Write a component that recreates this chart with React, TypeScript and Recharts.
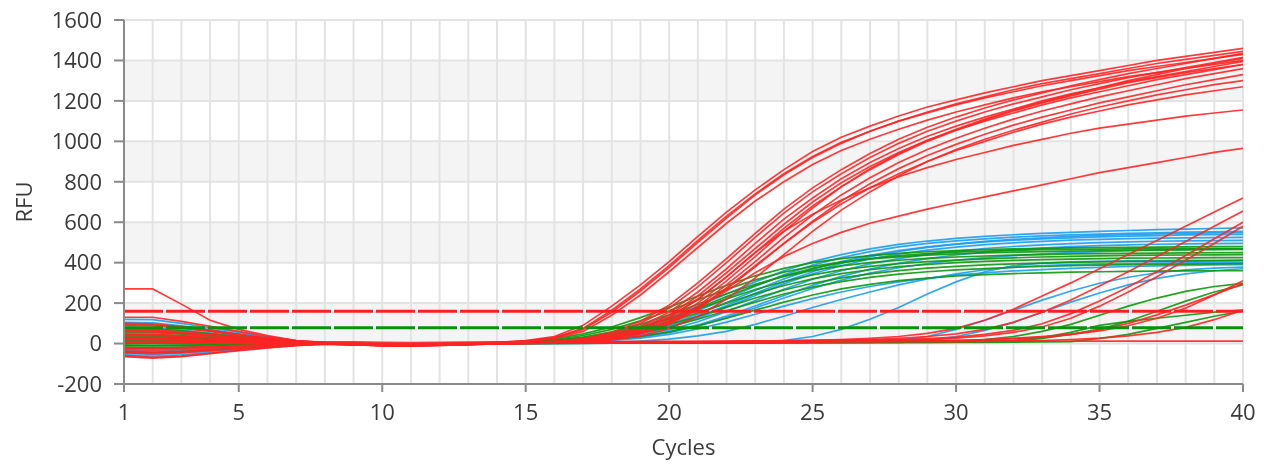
import React from 'react';
import { LineChart, Line, XAxis, YAxis, CartesianGrid, ReferenceLine, Label } from 'recharts';

const cycles = [1,2,3,4,5,6,7,8,9,10,11,12,13,14,15,16,17,18,19,20,21,22,23,24,25,26,27,28,29,30,31,32,33,34,35,36,37,38,39,40];
const xTicks = [1, 5, 10, 15, 20, 25, 30, 35, 40];
const yTicks = [-200, 0, 200, 400, 600, 800, 1000, 1200, 1400, 1600];
const redThreshold = 160;
const greenThreshold = 78;

const redEarly = [
  [130,130,110,85,60,35,15,5,2,-2,-3,-1,2,6,15,35,90,185,290,405,530,650,760,860,950,1020,1075,1125,1170,1205,1240,1270,1300,1325,1350,1375,1400,1420,1440,1460],
  [60,58,50,40,28,16,7,2,0,-4,-5,-3,0,4,12,30,75,165,270,385,510,630,740,840,925,995,1050,1100,1140,1180,1215,1245,1275,1300,1325,1350,1370,1390,1410,1430],
  [20,20,18,14,10,6,3,0,-2,-6,-7,-5,-2,3,10,28,70,155,260,375,500,620,735,835,920,990,1050,1100,1145,1185,1220,1255,1285,1310,1335,1360,1385,1405,1425,1445],
  [-20,-22,-20,-15,-10,-6,-3,-1,-4,-8,-9,-7,-3,2,9,25,60,140,240,355,475,595,705,800,885,955,1010,1060,1105,1145,1180,1215,1245,1270,1295,1320,1340,1360,1380,1400],
];

const redMain = [
  [90,88,75,60,42,25,10,3,0,-3,-4,-2,0,3,6,12,25,55,110,190,300,420,545,665,770,860,940,1010,1070,1120,1165,1205,1240,1275,1305,1335,1360,1385,1410,1435],
  [40,40,35,28,20,12,5,1,-2,-5,-6,-4,-1,2,5,10,22,50,100,175,280,400,525,645,750,840,920,990,1050,1100,1145,1185,1220,1255,1285,1315,1340,1365,1390,1415],
  [5,4,3,2,1,0,0,0,-3,-7,-8,-6,-3,0,4,8,18,42,85,155,255,370,495,615,720,815,895,965,1025,1075,1120,1160,1200,1235,1265,1295,1320,1345,1370,1395],
  [-45,-50,-45,-35,-25,-15,-7,-2,-5,-10,-11,-8,-4,-1,3,7,15,35,75,140,235,350,470,590,700,795,875,945,1005,1055,1100,1140,1180,1215,1245,1275,1305,1330,1355,1380],
  [70,68,58,45,32,18,8,2,-1,-4,-5,-3,0,2,4,6,12,28,60,115,200,310,430,555,670,775,865,940,1005,1060,1110,1155,1195,1230,1265,1300,1330,1360,1385,1410],
  [25,24,21,17,12,7,3,1,-2,-5,-6,-4,-1,2,4,6,12,26,55,105,185,290,405,525,635,735,820,895,960,1015,1065,1110,1150,1185,1220,1250,1280,1310,1335,1360],
  [-65,-72,-65,-50,-35,-22,-10,-3,-6,-11,-12,-9,-5,-2,2,5,10,22,48,95,170,270,380,495,605,705,790,865,930,985,1035,1080,1120,1155,1190,1220,1250,1280,1305,1330],
  [45,44,38,30,21,12,5,1,-2,-5,-6,-4,-2,1,3,4,8,18,38,75,135,220,325,440,555,660,750,830,900,960,1010,1055,1095,1135,1170,1200,1230,1255,1280,1300],
  [100,98,84,66,46,27,11,3,0,-3,-4,-3,0,3,5,6,10,24,50,100,175,275,385,495,600,690,770,840,900,955,1000,1045,1085,1120,1150,1180,1205,1230,1250,1270],
  [-30,-33,-30,-23,-15,-9,-4,-1,-4,-8,-9,-7,-3,0,3,7,14,32,68,128,218,330,450,570,680,775,860,935,1000,1055,1105,1150,1190,1225,1258,1290,1315,1340,1360,1380],
];

const redLow = [
  [10,10,8,6,4,2,1,0,-3,-6,-7,-5,-2,1,4,8,16,35,70,130,220,330,450,555,640,710,770,825,870,910,945,980,1010,1040,1065,1085,1105,1125,1140,1155],
  [-40,-45,-40,-30,-22,-13,-6,-2,-5,-9,-10,-8,-4,-1,2,6,14,30,60,110,180,260,350,430,495,550,595,630,665,695,725,755,785,815,845,870,895,920,945,965],
];

const redLate = [
  [270,270,195,115,70,40,15,5,2,0,-1,0,1,2,3,3,4,4,5,5,5,8,10,13,16,20,26,35,50,75,115,170,235,300,370,440,510,580,650,720],
  [45,45,38,30,22,13,6,2,0,-3,-4,-2,0,2,4,5,6,7,8,9,10,11,12,14,16,18,20,26,35,48,70,105,155,215,285,355,430,505,580,655],
  [-60,-68,-62,-48,-33,-20,-9,-3,-6,-10,-11,-9,-5,-2,0,2,3,4,5,6,7,8,9,10,12,14,16,18,24,32,45,65,98,148,210,280,355,435,518,600],
  [22,21,18,14,10,6,3,1,-1,-4,-5,-3,-1,1,3,4,5,6,7,8,9,10,11,12,13,15,17,19,20,27,38,55,82,125,185,255,330,412,495,580],
  [65,63,54,42,30,17,7,2,0,-3,-4,-2,0,2,3,4,5,6,7,8,9,10,10,11,12,13,14,15,15,15,20,26,34,45,62,88,125,175,240,310],
  [-25,-27,-24,-18,-12,-7,-3,-1,-4,-8,-9,-7,-4,-1,1,3,4,5,6,7,8,9,10,10,11,12,13,14,15,16,18,24,32,45,68,100,142,190,242,295],
  [95,93,80,62,44,26,11,3,0,-3,-4,-2,0,1,2,3,3,4,4,5,5,6,6,7,7,8,8,9,9,10,11,13,15,20,27,38,55,80,118,166],
  [30,30,25,20,15,12,10,9,8,6,5,6,7,8,9,10,10,10,11,11,11,11,12,12,12,12,12,12,12,12,12,12,12,12,12,12,12,12,12,12],
];

const blueMain = [
  [120,118,100,78,55,32,14,4,0,-3,-4,-2,0,3,8,15,28,50,85,130,185,245,305,360,405,440,468,490,507,520,530,538,545,550,555,559,563,566,569,572],
  [-55,-62,-56,-43,-30,-18,-8,-2,-5,-9,-10,-8,-4,0,6,12,22,40,70,110,162,222,283,340,388,425,455,478,495,508,518,526,532,537,541,545,548,551,553,555],
  [15,15,13,10,7,4,2,0,-2,-5,-6,-4,-1,2,5,10,18,33,58,95,145,203,263,320,368,406,436,460,478,492,503,511,518,523,528,531,534,537,539,540],
  [40,39,34,27,19,11,5,1,-1,-4,-5,-3,0,2,4,8,15,27,48,80,125,180,238,295,345,385,418,443,462,477,489,498,505,511,515,519,521,523,524,525],
  [-22,-24,-21,-16,-11,-6,-3,-1,-4,-8,-9,-7,-3,0,3,6,12,22,40,68,108,158,213,268,318,360,394,420,441,457,470,480,488,494,499,503,506,508,509,510],
  [62,60,52,41,29,17,7,2,0,-3,-4,-2,0,2,3,6,11,20,35,58,92,136,186,238,288,332,368,397,420,438,452,463,472,479,484,488,491,493,494,495],
  [2,2,1,1,0,0,0,0,-3,-6,-7,-5,-2,1,2,5,10,18,32,54,86,128,176,225,272,314,348,375,396,412,425,435,443,450,455,459,463,466,468,470],
  [-48,-54,-48,-37,-26,-16,-7,-2,-5,-9,-10,-8,-4,-1,4,9,16,30,52,86,132,188,248,305,355,396,430,456,476,492,505,515,523,530,535,539,542,545,547,548],
  [105,103,88,69,48,28,12,3,0,-3,-4,-2,0,1,2,4,8,15,27,45,72,106,145,185,222,255,282,305,323,338,350,359,366,372,377,381,384,387,389,390],
  [28,27,24,19,13,8,3,1,-2,-5,-6,-4,-2,0,2,3,4,6,12,22,38,60,95,135,178,218,255,290,320,345,365,378,386,391,394,396,398,399,400,400],
];

const blueLate = [
  [80,78,67,52,37,22,9,2,0,-3,-4,-2,0,1,2,2,3,3,3,4,4,4,6,15,35,70,120,178,245,305,355,385,398,404,407,409,410,411,412,413],
  [-35,-39,-35,-27,-19,-11,-5,-1,-4,-8,-9,-7,-3,-1,0,1,1,2,2,3,3,3,4,4,4,5,5,15,35,70,115,165,215,260,298,328,350,364,373,378],
  [8,8,7,5,4,2,1,0,-3,-6,-7,-5,-2,0,1,1,2,2,2,3,3,3,3,4,4,4,4,5,15,35,65,105,155,205,250,290,322,345,360,370],
];

const greenMain = [
  [55,54,47,37,26,15,6,2,0,-3,-4,-2,1,5,12,25,48,82,128,180,235,288,335,372,400,420,435,446,454,460,465,468,471,473,475,476,477,478,479,480],
  [18,18,16,12,9,5,2,0,-2,-5,-6,-4,-1,4,10,20,40,70,112,162,216,268,315,353,382,403,418,429,437,443,448,452,455,457,459,461,462,463,464,465],
  [0,0,0,0,0,0,0,0,-2,-4,-5,-3,0,3,8,16,32,58,95,142,194,246,293,332,362,384,400,412,421,428,433,437,440,443,445,446,447,448,449,450],
  [-18,-20,-18,-14,-9,-5,-2,-1,-4,-7,-8,-6,-2,3,7,14,27,48,80,122,170,220,267,307,340,364,382,395,405,413,419,424,428,431,434,436,437,438,439,440],
  [35,34,30,23,16,10,4,1,-1,-4,-5,-3,0,2,6,12,23,42,70,108,152,200,246,287,320,346,365,380,391,400,406,411,415,418,420,422,423,424,425,425],
  [-40,-45,-40,-31,-22,-13,-6,-2,-5,-9,-10,-8,-4,-1,5,10,20,36,60,94,135,180,225,265,298,325,345,361,373,382,389,394,398,401,404,406,407,408,409,410],
  [10,10,9,7,5,3,1,0,-2,-5,-6,-4,-1,1,5,9,17,31,52,82,120,162,205,245,279,306,327,343,355,364,371,377,381,385,388,390,392,393,394,395],
  [75,73,63,49,35,20,8,2,0,-3,-4,-2,0,2,6,12,24,45,78,122,175,232,287,335,372,400,420,435,445,452,457,461,464,466,467,468,469,469,470,470],
  [-10,-11,-10,-7,-5,-3,-1,0,-3,-6,-7,-5,-2,0,2,5,10,20,35,58,88,125,165,205,240,270,293,311,324,334,341,346,350,353,355,357,358,359,360,360],
];

const greenLate = [
  [28,27,24,19,13,8,3,1,-2,-4,-5,-3,-1,0,1,2,2,3,3,4,4,5,5,6,6,7,8,9,10,10,20,35,60,95,140,185,225,258,282,298],
  [-8,-9,-8,-6,-4,-2,-1,0,-3,-5,-6,-4,-2,0,1,1,2,2,3,3,4,4,5,5,6,6,7,7,8,8,9,10,25,45,70,110,160,210,255,290],
  [45,44,38,30,21,12,5,1,-1,-3,-4,-2,0,1,2,2,3,3,4,4,5,5,6,6,7,7,8,8,9,10,12,16,30,55,90,110,125,140,155,166],
  [5,5,4,3,2,1,0,0,-2,-4,-5,-3,-1,0,1,1,1,2,2,2,3,3,3,4,4,4,5,5,5,6,6,7,8,10,25,45,75,105,135,162],
];

const RED = '#ff2525';
const BLUE = '#1a9ff0';
const GREEN = '#0b980b';

type Series = { key: string; color: string; values: number[] };

const series: Series[] = [
  ...blueMain.map((v, i) => ({ key: `bm${i}`, color: BLUE, values: v })),
  ...blueLate.map((v, i) => ({ key: `bl${i}`, color: BLUE, values: v })),
  ...greenMain.map((v, i) => ({ key: `gm${i}`, color: GREEN, values: v })),
  ...greenLate.map((v, i) => ({ key: `gl${i}`, color: GREEN, values: v })),
  ...redLate.map((v, i) => ({ key: `rl${i}`, color: RED, values: v })),
  ...redLow.map((v, i) => ({ key: `rw${i}`, color: RED, values: v })),
  ...redMain.map((v, i) => ({ key: `rm${i}`, color: RED, values: v })),
  ...redEarly.map((v, i) => ({ key: `re${i}`, color: RED, values: v })),
];

const rows = cycles.map((c, idx) => {
  const r: Record<string, number> = { cycle: c };
  series.forEach((s) => {
    r[s.key] = s.values[idx];
  });
  return r;
});

const FONT = '"Open Sans", sans-serif';
const tickStyle = { fill: '#3a3a3a', fontSize: 22, fontFamily: FONT };

const gridX = ({ xAxis }: any) => {
  const s = xAxis && xAxis.scale;
  if (!s) return [];
  const f = typeof s === 'function' ? s : (v: number) => s.map(v);
  return cycles.map((c) => f(c));
};

export default function App() {
  return (
    <div style={{ position: 'fixed', left: 0, top: 0 }}>
      <LineChart width={1265} height={464} data={rows} margin={{ top: 20, right: 22, bottom: 0, left: 0 }}>
        <CartesianGrid
          stroke="#e3e3e3"
          strokeWidth={2}
          horizontalFill={['#ffffff', '#f4f4f4']}
          verticalCoordinatesGenerator={gridX}
        />
        <XAxis
          dataKey="cycle"
          type="number"
          domain={[1, 40]}
          ticks={xTicks}
          interval={0}
          allowDataOverflow
          height={80}
          tickSize={8}
          tickMargin={12}
          stroke="#8a8a8a"
          strokeWidth={2}
          tick={tickStyle}
        >
          <Label
            value="Cycles"
            position="insideBottom"
            offset={9}
            style={{ fill: '#3a3a3a', fontSize: 22, fontFamily: FONT }}
          />
        </XAxis>
        <YAxis
          type="number"
          domain={[-200, 1600]}
          ticks={yTicks}
          interval={0}
          allowDataOverflow
          width={124}
          tickSize={10}
          tickMargin={12}
          stroke="#8a8a8a"
          strokeWidth={2}
          tick={tickStyle}
        >
          <Label
            value="RFU"
            angle={-90}
            position="insideLeft"
            offset={24}
            style={{ textAnchor: 'middle', fill: '#3a3a3a', fontSize: 22, fontFamily: FONT }}
          />
        </YAxis>
        {series.map((s) => (
          <Line
            key={s.key}
            dataKey={s.key}
            type="linear"
            stroke={s.color}
            strokeWidth={1.7}
            strokeOpacity={0.9}
            dot={false}
            activeDot={false}
            isAnimationActive={false}
          />
        ))}
        <ReferenceLine y={redThreshold} stroke="#ff1f1f" strokeWidth={3} strokeDasharray="39 3" />
        <ReferenceLine y={greenThreshold} stroke="#079307" strokeWidth={3} strokeDasharray="39 3" />
      </LineChart>
    </div>
  );
}
